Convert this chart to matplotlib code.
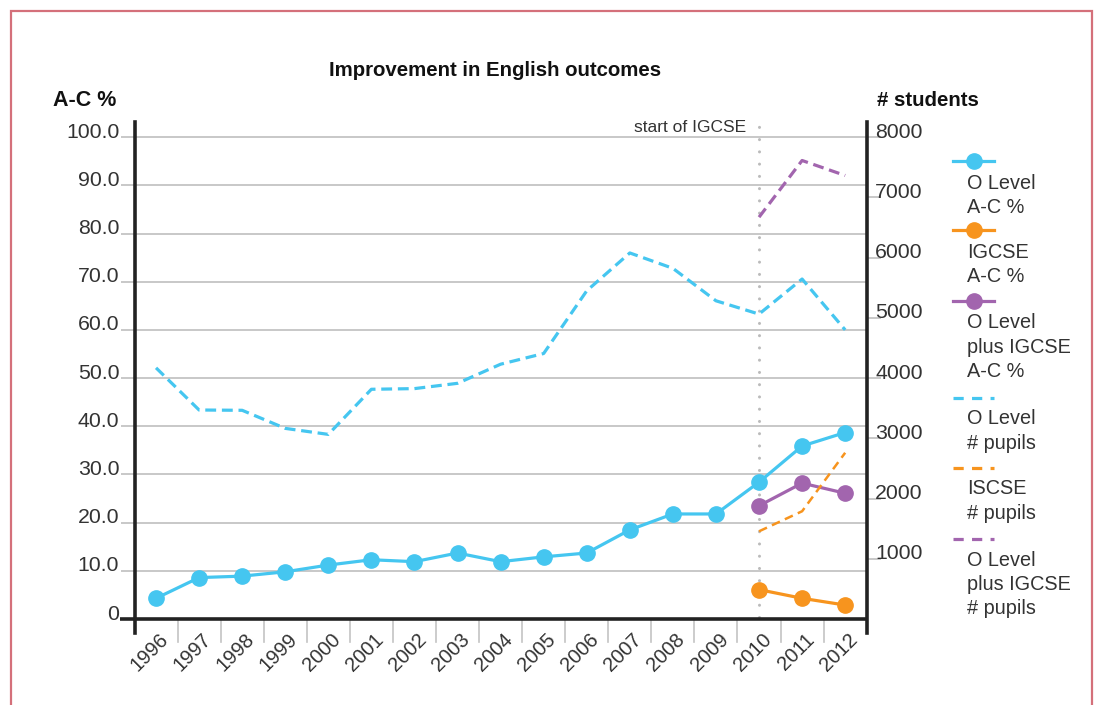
import matplotlib
matplotlib.use("Agg")
import matplotlib.pyplot as plt
import matplotlib.transforms as mtransforms
from matplotlib.lines import Line2D
from matplotlib.patches import Rectangle

# ---------------- data ----------------
years = ['1996', '1997', '1998', '1999', '2000', '2001', '2002', '2003', '2004',
         '2005', '2006', '2007', '2008', '2009', '2010', '2011', '2012']
olevel_pct = [4.3, 8.6, 8.9, 9.8, 11.2, 12.3, 11.9, 13.7, 11.9, 12.9, 13.7,
              18.5, 21.8, 21.8, 28.4, 35.9, 38.7]
igcse_years = ['2010', '2011', '2012']
igcse_pct = [6.1, 4.3, 2.9]
combined_pct = [23.5, 28.2, 26.1]
olevel_pupils = [4170, 3470, 3465, 3165, 3065, 3814, 3825, 3913, 4230, 4408,
                 5449, 6077, 5822, 5283, 5062, 5644, 4800]
igcse_pupils = [1456, 1789, 2760]
combined_pupils = [6671, 7612, 7363]
start_year = '2010'

left_ticks = [0, 10, 20, 30, 40, 50, 60, 70, 80, 90, 100]
left_labels = ['0', '10.0', '20.0', '30.0', '40.0', '50.0', '60.0', '70.0', '80.0', '90.0', '100.0']
right_ticks = [1000, 2000, 3000, 4000, 5000, 6000, 7000, 8000]
right_labels = ['1000', '2000', '3000', '4000', '5000', '6000', '7000', '8000']

legend_entries = [
    ('solid', ['O Level', 'A-C %']),
    ('solid', ['IGCSE', 'A-C %']),
    ('solid', ['O Level', 'plus IGCSE', 'A-C %']),
    ('dashed', ['O Level', '# pupils']),
    ('dashed', ['ISCSE', '# pupils']),
    ('dashed', ['O Level', 'plus IGCSE', '# pupils']),
]

# ---------------- style ----------------
BLUE = '#45C6F0'
ORANGE = '#F7941E'
PURPLE = '#A265AE'
GRID = '#C4C4C4'
TXT = '#333333'
BORDER = '#D4707A'
FONT = 'Liberation Sans'

plt.rcParams['font.family'] = [FONT, 'DejaVu Sans']

W, H = 1096, 705
fig = plt.figure(figsize=(W / 100, H / 100), dpi=100)

def fx(x):
    return x / W

def fy(y):
    return 1 - y / H

ax_l, ax_r, ax_t, ax_b = 134.5, 866.7, 121.7, 633.0
ax = fig.add_axes([fx(ax_l), fy(ax_b), fx(ax_r) - fx(ax_l), fy(ax_t) - fy(ax_b)])
ax2 = ax.twinx()

x = list(range(len(years)))
xi = [years.index(y) for y in igcse_years]

ylo, yhi = -2.9, 103.2
ax.set_ylim(ylo, yhi)
ax2.set_ylim(ylo * 80, yhi * 80)
ax.set_xlim(-0.5, len(years) - 0.5)

# gridlines
for t in left_ticks[1:]:
    ax.axhline(t, color=GRID, lw=1.3, zorder=1)

# vertical dotted line for start of IGCSE
sx = years.index(start_year)
ax.plot([sx, sx], [0.5, yhi + 0.8], color='#BBBBBB', lw=2.2,
        dashes=(0.01, 4.0), dash_capstyle='round', zorder=2, clip_on=False)
ax.text(sx - 0.3, 102.0, 'start of IGCSE', ha='right', va='center',
        fontsize=12.5, color=TXT)

# percent lines
ax.plot(x, olevel_pct, color=BLUE, lw=2.3, marker='o', ms=11, zorder=5)
ax.plot(xi, igcse_pct, color=ORANGE, lw=2.3, marker='o', ms=11, zorder=5)
ax.plot(xi, combined_pct, color=PURPLE, lw=2.3, marker='o', ms=11, zorder=5)

# pupil lines (right axis)
ax2.plot(x, olevel_pupils, color=BLUE, lw=2.3, dashes=(3.4, 1.8), zorder=4)
ax2.plot(xi, igcse_pupils, color=ORANGE, lw=1.8, dashes=(3.5, 2.2), zorder=4)
ax2.plot(xi, combined_pupils, color=PURPLE, lw=2.3, dashes=(3.4, 1.8), zorder=4)

# spines
for a in (ax, ax2):
    a.spines['top'].set_visible(False)
    a.spines['bottom'].set_visible(False)
ax.spines['left'].set_color('#222222')
ax.spines['left'].set_linewidth(2.6)
ax.spines['right'].set_visible(False)
ax2.spines['left'].set_visible(False)
ax2.spines['right'].set_color('#222222')
ax2.spines['right'].set_linewidth(2.6)

# bottom axis line (extends left past the spine)
ax.plot([-0.5 - 14 / 43.0, len(years) - 0.5], [0, 0], color='#222222', lw=2.6,
        solid_capstyle='butt', clip_on=False, zorder=6)
# x tick marks at category boundaries
for b in range(1, len(years)):
    ax.plot([b - 0.5, b - 0.5], [0, -4.7], color=GRID, lw=1.2, clip_on=False, zorder=1)

# y ticks
ax.set_yticks(left_ticks)
ax.set_yticklabels(left_labels)
ax.tick_params(axis='y', length=10, width=1.3, color=GRID, pad=1,
               labelsize=15.3, labelcolor=TXT)
ax2.set_yticks(right_ticks)
ax2.set_yticklabels(right_labels)
ax2.tick_params(axis='y', length=10, width=1.3, color=GRID, pad=-4,
                labelsize=15.3, labelcolor=TXT)
up = mtransforms.ScaledTranslation(0, 0.07, fig.dpi_scale_trans)
for lbl in ax.get_yticklabels() + ax2.get_yticklabels():
    lbl.set_transform(lbl.get_transform() + up)

# x ticks
ax.set_xticks(x)
ax.set_xticklabels(years, rotation=45, ha='right', va='top', rotation_mode='anchor')
ax.tick_params(axis='x', length=0, pad=0, labelsize=14.5, labelcolor=TXT)
shift = mtransforms.ScaledTranslation(0.025, 0.03, fig.dpi_scale_trans)
for lbl in ax.get_xticklabels():
    lbl.set_transform(lbl.get_transform() + shift)

# titles
fig.text(fx(495), fy(70), 'Improvement in English outcomes', ha='center', va='center',
         fontsize=14.7, fontweight='bold', color='#111111')
fig.text(fx(53), fy(101), 'A-C %', ha='left', va='center',
         fontsize=15.5, fontweight='bold', color='#111111')
fig.text(fx(877), fy(101), '# students', ha='left', va='center',
         fontsize=14.7, fontweight='bold', color='#111111')

# legend (manual)
colors = [BLUE, ORANGE, PURPLE, BLUE, ORANGE, PURPLE]
handle_y = [160.7, 230.0, 300.5, 397.5, 467.5, 539.0]
for (kind, lines), c, hy in zip(legend_entries, colors, handle_y):
    if kind == 'solid':
        fig.add_artist(Line2D([fx(953), fx(994)], [fy(hy), fy(hy)], color=c, lw=2.3))
        fig.add_artist(Line2D([fx(974)], [fy(hy)], color=c, marker='o', ms=11, lw=0))
        first = hy + 20.5
    else:
        fig.add_artist(Line2D([fx(953), fx(994)], [fy(hy), fy(hy)], color=c, lw=2.3,
                              dashes=(3.2, 2.6)))
        first = hy + 19.5
    for k, s in enumerate(lines):
        fig.text(fx(967), fy(first + 24.2 * k), s, ha='left', va='center_baseline',
                 fontsize=14.3, color=TXT)

# border
fig.add_artist(Rectangle((fx(10.5), -0.1), fx(1092) - fx(10.5), fy(11) + 0.1,
                         fill=False, edgecolor=BORDER, lw=1.6,
                         transform=fig.transFigure))

fig.savefig('out.png', dpi=100)
